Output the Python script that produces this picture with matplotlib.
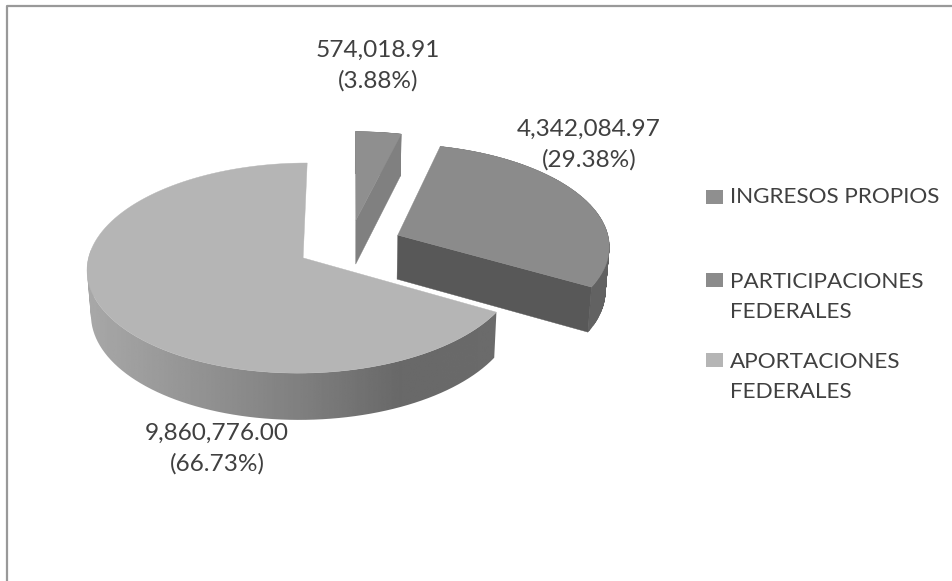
import numpy as np
import matplotlib
matplotlib.use('Agg')
import matplotlib.pyplot as plt
from matplotlib.patches import PathPatch, Polygon, Rectangle
from matplotlib.path import Path

categorias = ['INGRESOS PROPIOS', 'PARTICIPACIONES\nFEDERALES', 'APORTACIONES\nFEDERALES']
valores = [574018.91, 4342084.97, 9860776.00]
colores_cara = ['#8f8f8f', '#8b8b8b', '#b5b5b5']
colores_corte = ['#808080', '#585858', '#808080']
colores_borde = ['#808080', '#626262', '#808080']

plt.rcParams['font.family'] = ['Lato', 'DejaVu Sans']

# parametros de la proyeccion (pixeles de la imagen)
cx, cy = 349.5, 245
rx, ry = 212, 101.6
persp = 0.0956
explosion = 0.25


def proyecta(u, v):
    w = 1 + persp * v
    return cx + rx * u / w, cy - ry * v / w


def base(x, y):
    # el borde inferior del pastel
    return cx + (x - cx) * 0.985, cy + (y - cy) * 1.02 + 44.2


def arco(t0, t1, t_med):
    t = np.linspace(t0, t1, 120)
    u = np.sin(t) + explosion * np.sin(t_med)
    v = np.cos(t) + explosion * np.cos(t_med)
    return proyecta(u, v)


def pared_path(x, y, bx, by):
    # la pared como muchos cuadritos, todos con la misma orientacion
    trozos = []
    for j in range(len(x) - 1):
        q = [(x[j], y[j]), (x[j + 1], y[j + 1]), (bx[j + 1], by[j + 1]), (bx[j], by[j])]
        area = sum(q[k][0] * q[(k + 1) % 4][1] - q[(k + 1) % 4][0] * q[k][1] for k in range(4))
        if area < 0:
            q = q[::-1]
        trozos.append(Path(q + [q[0]], closed=True))
    return Path.make_compound_path(*trozos)


fig = plt.figure(figsize=(9.53, 5.81), dpi=100)
ax = fig.add_axes([0, 0, 1, 1])

# marco, solo arriba e izquierda
ax.plot([7, 7, 953], [581, 6, 6], color='#999999', lw=1.6, solid_capstyle='butt')

total = sum(valores)
limites = np.cumsum([0] + valores) / total * 2 * np.pi

for i in range(3):
    t0, t1 = limites[i], limites[i + 1]
    t_med = (t0 + t1) / 2
    x, y = arco(t0, t1, t_med)
    ax0, ay0 = proyecta(explosion * np.sin(t_med), explosion * np.cos(t_med))
    bx, by = base(x, y)
    bx0, by0 = base(ax0, ay0)
    pared = pared_path(x, y, bx, by)

    if i == 2:
        # pared exterior con degradado
        clip = PathPatch(pared, transform=ax.transData, fc='none', ec='none')
        ax.add_patch(clip)
        grad = np.interp(np.linspace(85, 500, 256), [85, 300, 400, 500], [0.66, 0.50, 0.41, 0.42])
        im = ax.imshow(grad[None, :], extent=[85, 500, 430, 250], cmap='gray', vmin=0, vmax=1,
                       aspect='auto', zorder=2)
        im.set_clip_path(clip)
    else:
        # pared exterior
        ax.add_patch(PathPatch(pared, fc=colores_borde[i], ec=colores_borde[i], lw=0.3, zorder=2))
        # corte frontal de la rebanada
        corte = [(ax0, ay0), (x[-1], y[-1]), (bx[-1], by[-1]), (bx0, by0)]
        ax.add_patch(Polygon(corte, closed=True, fc=colores_corte[i], ec=colores_corte[i], lw=0.3, zorder=3))

    cara = np.column_stack([np.r_[ax0, x], np.r_[ay0, y]])
    ax.add_patch(Polygon(cara, closed=True, fc=colores_cara[i], ec=colores_cara[i], lw=0.3, zorder=4))

ax.set_xlim(0, 953)
ax.set_ylim(581, 0)
ax.axis('off')

# etiquetas de datos
pos_etiquetas = [(378, 66), (589, 145), (217, 449)]
for i in range(3):
    pct = valores[i] / total * 100
    ax.text(pos_etiquetas[i][0], pos_etiquetas[i][1], f'{valores[i]:,.2f}\n({pct:.2f}%)', ha='center', va='center',
            fontsize=17.6, color='#404040', linespacing=1.52, zorder=5)

# leyenda
pos_leyenda = [197, 280, 360]
pos_texto = [197, 297, 377]
for i in range(3):
    ax.add_patch(Rectangle((706, pos_leyenda[i] - 7), 17, 14, fc=colores_cara[i], ec='none'))
    ax.text(730, pos_texto[i], categorias[i], ha='left', va='center', fontsize=16.2, color='#404040', linespacing=1.63)

fig.savefig('out.png', dpi=100)
